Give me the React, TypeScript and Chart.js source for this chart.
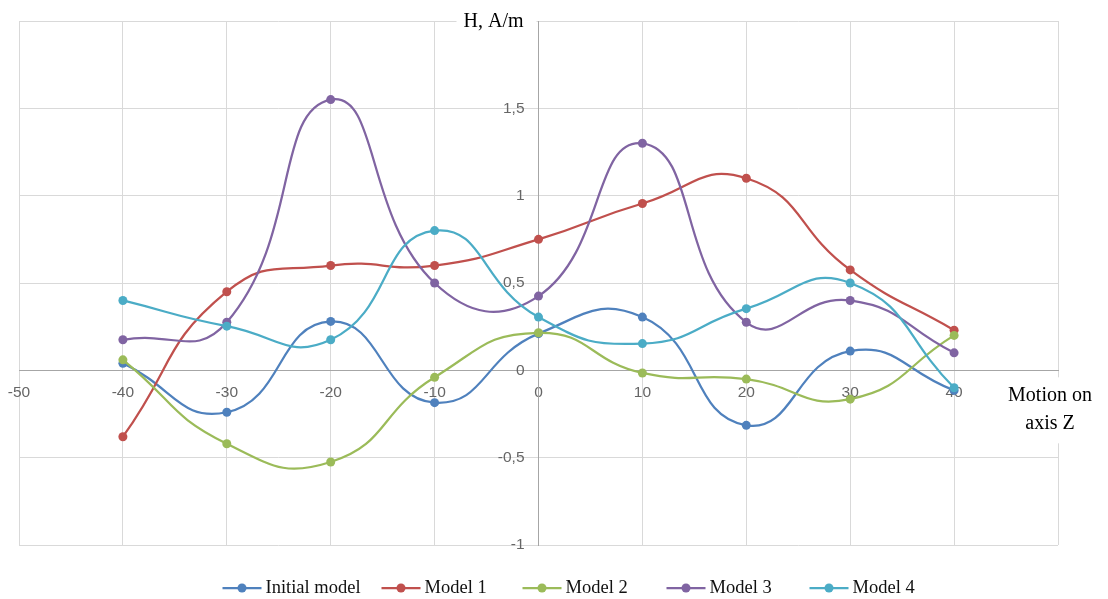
import React, { useEffect, useRef } from 'react';
import { Chart, registerables } from 'chart.js';

Chart.register(...registerables);

// Positions along axis Z
const xPositions = [-40, -30, -20, -10, 0, 10, 20, 30, 40];

const seriesNames = ['Initial model', 'Model 1', 'Model 2', 'Model 3', 'Model 4'];
const seriesColors = ['#4F81BD', '#C0504D', '#9BBB59', '#8064A2', '#4BACC6'];

const initialModel = [0.04, -0.24, 0.28, -0.185, 0.21, 0.305, -0.315, 0.11, -0.115];
const model1 = [-0.38, 0.45, 0.6, 0.6, 0.75, 0.955, 1.1, 0.575, 0.23];
const model2 = [0.06, -0.42, -0.525, -0.04, 0.215, -0.015, -0.05, -0.165, 0.2];
const model3 = [0.175, 0.275, 1.55, 0.5, 0.425, 1.3, 0.275, 0.4, 0.1];
const model4 = [0.4, 0.253, 0.175, 0.8, 0.305, 0.153, 0.353, 0.5, -0.1];

const xTickValues = [-50, -40, -30, -20, -10, 0, 10, 20, 30, 40, 50];
const yTickValues = [-1, -0.5, 0, 0.5, 1, 1.5, 2];

const yAxisTitle = 'H, A/m';
const xAxisTitleLines = ['Motion on', 'axis Z'];

const allSeries = [initialModel, model1, model2, model3, model4];

// legend entry offsets (px) from the chart-area centre
const legendOffsets = [-316, -157, -16, 128, 271];

// moves the y tick labels a little left of the centred vertical axis
const yLabelShiftPlugin = {
  id: 'yLabelShift',
  beforeDraw(chart: any) {
    const items = chart.scales.y.getLabelItems();
    items.forEach((it: any) => {
      if (it.__shifted) return;
      const t = it.options.translation;
      it.options.translation = [t[0] - 14, t[1]];
      it.__shifted = true;
    });
  },
};

const overlayPlugin = {
  id: 'overlay',
  afterDraw(chart: any) {
    const ctx = chart.ctx as CanvasRenderingContext2D;
    const area = chart.chartArea;
    const yAxisX = chart.scales.x.getPixelForValue(0);
    const xAxisY = chart.scales.y.getPixelForValue(0);
    ctx.save();

    // Y axis title
    ctx.font = '20px "Liberation Serif", "Times New Roman", serif';
    const tw = ctx.measureText(yAxisTitle).width;
    ctx.fillStyle = '#ffffff';
    ctx.fillRect(yAxisX - tw - 22, area.top - 14, tw + 20, 28);
    ctx.fillStyle = '#000000';
    ctx.textAlign = 'right';
    ctx.textBaseline = 'middle';
    ctx.fillText(yAxisTitle, yAxisX - 15, area.top + 1);

    // X axis title
    ctx.fillStyle = '#ffffff';
    ctx.fillRect(area.right - 60, xAxisY + 7, 120, 66);
    ctx.fillStyle = '#000000';
    ctx.textAlign = 'center';
    ctx.fillText(xAxisTitleLines[0], area.right - 8, xAxisY + 25);
    ctx.fillText(xAxisTitleLines[1], area.right - 8, xAxisY + 53);

    // Legend
    ctx.font = '18.5px "Liberation Serif", "Times New Roman", serif';
    const lineLen = 39;
    const gapText = 4;
    const cx = (area.left + area.right) / 2;
    const ly = chart.height - 11;
    ctx.textAlign = 'left';
    seriesNames.forEach((name, i) => {
      const c = seriesColors[i];
      const x = cx + legendOffsets[i];
      ctx.strokeStyle = c;
      ctx.lineWidth = 2.25;
      ctx.beginPath();
      ctx.moveTo(x, ly);
      ctx.lineTo(x + lineLen, ly);
      ctx.stroke();
      ctx.fillStyle = c;
      ctx.beginPath();
      ctx.arc(x + lineLen / 2, ly, 4.5, 0, Math.PI * 2);
      ctx.fill();
      ctx.fillStyle = '#111111';
      ctx.fillText(name, x + lineLen + gapText, ly);
    });
    ctx.restore();
  },
};

function fmt(v: number) {
  return String(v).replace('.', ',');
}

function noPadding(scale: any) {
  scale.paddingLeft = 0;
  scale.paddingRight = 0;
  scale.paddingTop = 0;
  scale.paddingBottom = 0;
}

export default function App() {
  const ref = useRef<HTMLCanvasElement | null>(null);
  useEffect(() => {
    if (!ref.current) return;
    const chart = new Chart(ref.current, {
      type: 'line',
      data: {
        datasets: allSeries.map((vals, i) => ({
          label: seriesNames[i],
          data: vals.map((y, k) => ({ x: xPositions[k], y })),
          borderColor: seriesColors[i],
          backgroundColor: seriesColors[i],
          pointBackgroundColor: seriesColors[i],
          pointBorderColor: seriesColors[i],
          borderWidth: 2.25,
          pointRadius: 4.5,
          pointBorderWidth: 0,
          tension: 0.5,
          fill: false,
          order: allSeries.length - 1 - i,
        })),
      },
      options: {
        animation: false,
        responsive: true,
        maintainAspectRatio: false,
        layout: { padding: { left: 19, right: 50, top: 21, bottom: 54 } },
        plugins: {
          legend: { display: false },
          tooltip: { enabled: false },
        },
        scales: {
          x: {
            type: 'linear',
            position: { y: 0 } as any,
            min: -50,
            max: 50,
            afterBuildTicks: (scale: any) => {
              scale.ticks = xTickValues.map((v) => ({ value: v }));
            },
            afterFit: noPadding,
            grid: { color: '#d9d9d9', lineWidth: 1, drawTicks: false },
            border: { display: true, color: '#a6a6a6', width: 1 },
            ticks: {
              padding: 13,
              color: '#666666',
              font: { family: '"Liberation Sans", Arial, sans-serif', size: 15.5 },
              callback: (v: any) => (v === 50 ? '' : fmt(Number(v))),
              maxRotation: 0,
              autoSkip: false,
            },
          },
          y: {
            type: 'linear',
            position: { x: 0 } as any,
            min: -1,
            max: 2,
            afterBuildTicks: (scale: any) => {
              scale.ticks = yTickValues.map((v) => ({ value: v }));
            },
            afterFit: noPadding,
            grid: { color: '#d9d9d9', lineWidth: 1, drawTicks: false },
            border: { display: true, color: '#a6a6a6', width: 1 },
            ticks: {
              padding: 0,
              color: '#666666',
              font: { family: '"Liberation Sans", Arial, sans-serif', size: 15.5 },
              callback: (v: any) => (v === 2 ? '' : fmt(Number(v))),
              autoSkip: false,
            },
          },
        },
      },
      plugins: [yLabelShiftPlugin, overlayPlugin],
    } as any);
    return () => chart.destroy();
  }, []);
  return (
    <div style={{ position: 'fixed', left: 0, top: 0, width: 1108, height: 599, background: '#fff' }}>
      <canvas ref={ref} />
    </div>
  );
}
